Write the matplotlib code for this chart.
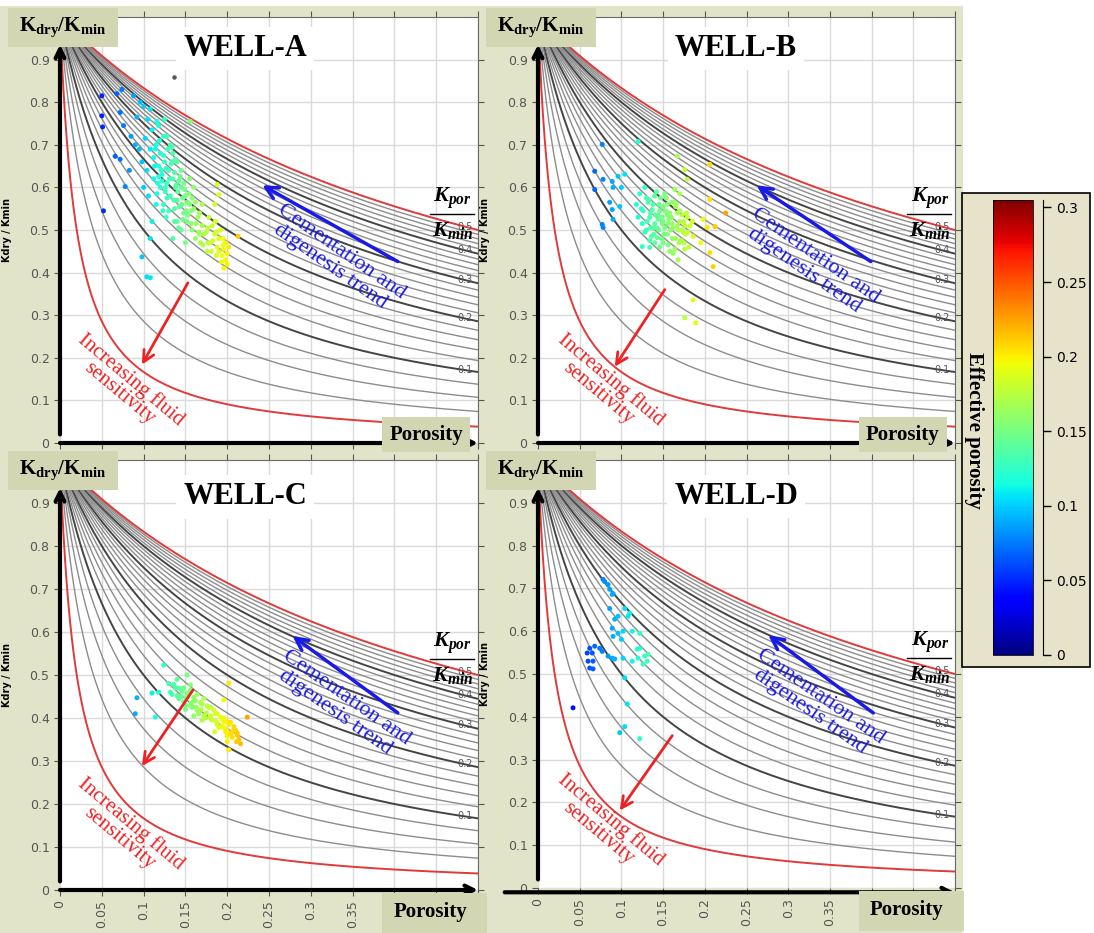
import numpy as np
import matplotlib.pyplot as plt
from matplotlib.patches import Rectangle
from matplotlib.colors import Normalize

plt.rcParams['mathtext.fontset'] = 'custom'
plt.rcParams['mathtext.rm'] = 'Liberation Serif'
plt.rcParams['mathtext.bf'] = 'Liberation Serif:bold'
plt.rcParams['mathtext.bfit'] = 'Liberation Serif:italic:bold'
SERIF = 'Liberation Serif'

# template curves: Kdry/Kmin = kpor / (kpor + phi)
kpor_ratios = np.round(np.arange(0.02, 0.501, 0.02), 2)
dark_ratios = [0.1, 0.2, 0.3, 0.4]
red_ratios = [0.02, 0.5]
label_ratios = [0.5, 0.4, 0.3, 0.2, 0.1]

# ---- well data: porosity, Kdry/Kmin ----
phi_a = [0.050, 0.050, 0.051, 0.052, 0.068, 0.074, 0.072, 0.076, 0.066, 0.072, 0.078,
         0.088, 0.096, 0.092, 0.085, 0.090, 0.083, 0.095, 0.100, 0.105, 0.110, 0.102,
         0.108, 0.098, 0.104, 0.112, 0.100, 0.106, 0.115, 0.110, 0.108, 0.098, 0.104, 0.108,
         0.115, 0.120, 0.125, 0.118, 0.122, 0.128, 0.130, 0.135, 0.126, 0.132, 0.138, 0.140,
         0.120, 0.116, 0.124, 0.130, 0.135, 0.128, 0.132, 0.140, 0.145, 0.118, 0.125, 0.108,
         0.116, 0.124, 0.134, 0.138,
         0.145, 0.150, 0.155, 0.148, 0.160, 0.152, 0.158, 0.165, 0.170, 0.162, 0.168, 0.175,
         0.155, 0.160, 0.170, 0.145, 0.150, 0.140, 0.135, 0.156, 0.190, 0.188,
         0.178, 0.182, 0.185, 0.180, 0.188, 0.190, 0.176, 0.185,
         0.192, 0.195, 0.198, 0.196, 0.200, 0.194, 0.198, 0.200, 0.196, 0.202, 0.190, 0.193, 0.213,
         0.112, 0.118, 0.122, 0.127, 0.133, 0.137, 0.142, 0.147, 0.152, 0.157, 0.163, 0.167,
         0.172, 0.177, 0.183, 0.187, 0.143, 0.148, 0.153, 0.158, 0.128, 0.123, 0.113, 0.137,
         0.142, 0.162, 0.166, 0.171, 0.181, 0.186,
         0.114, 0.119, 0.124, 0.129, 0.134, 0.139, 0.144, 0.149, 0.154,
         0.121, 0.126, 0.131, 0.136, 0.141, 0.146, 0.151,
         0.117, 0.127, 0.137, 0.147, 0.157, 0.167, 0.177, 0.187, 0.195]
k_a = [0.815, 0.768, 0.742, 0.545, 0.820, 0.830, 0.776, 0.745, 0.673, 0.666, 0.602,
       0.815, 0.800, 0.765, 0.720, 0.700, 0.640, 0.690, 0.790, 0.760, 0.735, 0.715,
       0.690, 0.660, 0.640, 0.620, 0.600, 0.580, 0.560, 0.520, 0.480, 0.437, 0.390, 0.388,
       0.700, 0.680, 0.660, 0.650, 0.630, 0.610, 0.640, 0.620, 0.590, 0.580, 0.600, 0.570,
       0.600, 0.585, 0.560, 0.545, 0.680, 0.720, 0.700, 0.660, 0.640, 0.745, 0.760, 0.784,
       0.755, 0.720, 0.694, 0.666,
       0.600, 0.580, 0.560, 0.540, 0.550, 0.520, 0.500, 0.530, 0.510, 0.480, 0.470, 0.495,
       0.620, 0.600, 0.560, 0.500, 0.470, 0.520, 0.480, 0.755, 0.583, 0.607,
       0.530, 0.510, 0.490, 0.470, 0.460, 0.480, 0.450, 0.560,
       0.500, 0.480, 0.470, 0.455, 0.445, 0.440, 0.430, 0.420, 0.410, 0.460, 0.450, 0.425, 0.485,
       0.670, 0.625, 0.615, 0.645, 0.655, 0.635, 0.615, 0.575, 0.565, 0.545, 0.515, 0.540,
       0.490, 0.505, 0.475, 0.495, 0.555, 0.610, 0.535, 0.575, 0.575, 0.545, 0.650, 0.550,
       0.505, 0.565, 0.495, 0.465, 0.450, 0.520,
       0.690, 0.710, 0.675, 0.690, 0.660, 0.605, 0.625, 0.595, 0.585,
       0.640, 0.600, 0.620, 0.570, 0.590, 0.560, 0.545,
       0.610, 0.530, 0.520, 0.525, 0.515, 0.490, 0.470, 0.440, 0.465]

phi_b = [0.077, 0.068, 0.068, 0.078, 0.089, 0.090, 0.086, 0.089, 0.077, 0.078, 0.090,
         0.098, 0.096, 0.104, 0.100, 0.120,
         0.118, 0.122, 0.126, 0.130, 0.134, 0.138, 0.142, 0.146, 0.150, 0.154, 0.158, 0.162,
         0.166, 0.170, 0.174, 0.178, 0.182, 0.186,
         0.120, 0.125, 0.130, 0.135, 0.140, 0.145, 0.150, 0.155, 0.160, 0.165, 0.170, 0.175,
         0.180, 0.185,
         0.124, 0.128, 0.132, 0.136, 0.140, 0.144, 0.148, 0.152, 0.156, 0.160, 0.164, 0.168,
         0.172, 0.176,
         0.128, 0.134, 0.140, 0.146, 0.152, 0.158, 0.164, 0.170, 0.176, 0.138, 0.144, 0.150,
         0.156, 0.162, 0.168,
         0.167, 0.176, 0.179, 0.206, 0.206, 0.212, 0.203, 0.206, 0.210, 0.195, 0.186, 0.176,
         0.189, 0.225, 0.125, 0.134, 0.198,
         0.131, 0.137, 0.143, 0.149, 0.155, 0.161, 0.167, 0.173, 0.179,
         0.133, 0.139, 0.145, 0.151, 0.157, 0.163, 0.169, 0.175, 0.181,
         0.135, 0.141, 0.147, 0.153, 0.159, 0.165, 0.171, 0.177,
         0.143, 0.149, 0.155, 0.161, 0.167, 0.173]
k_b = [0.701, 0.638, 0.595, 0.619, 0.614, 0.600, 0.565, 0.548, 0.513, 0.506, 0.525,
       0.555, 0.626, 0.631, 0.600, 0.708,
       0.560, 0.585, 0.545, 0.575, 0.530, 0.560, 0.590, 0.545, 0.520, 0.575, 0.540, 0.505,
       0.560, 0.520, 0.495, 0.540, 0.510, 0.485,
       0.530, 0.515, 0.500, 0.540, 0.515, 0.500, 0.555, 0.490, 0.530, 0.480, 0.545, 0.470,
       0.495, 0.520,
       0.550, 0.495, 0.565, 0.485, 0.470, 0.525, 0.480, 0.505, 0.465, 0.565, 0.455, 0.500,
       0.475, 0.455,
       0.600, 0.475, 0.580, 0.460, 0.585, 0.450, 0.595, 0.585, 0.510, 0.505, 0.535, 0.470,
       0.515, 0.445, 0.430,
       0.673, 0.642, 0.619, 0.654, 0.572, 0.508, 0.506, 0.447, 0.414, 0.470, 0.336, 0.294,
       0.282, 0.540, 0.461, 0.459, 0.525,
       0.520, 0.548, 0.505, 0.530, 0.560, 0.515, 0.540, 0.500, 0.530,
       0.570, 0.490, 0.560, 0.490, 0.525, 0.565, 0.470, 0.520, 0.460,
       0.505, 0.535, 0.575, 0.545, 0.500, 0.555, 0.475, 0.490,
       0.482, 0.515, 0.535, 0.480, 0.510, 0.535]

phi_c = [0.092, 0.090, 0.124, 0.110, 0.118, 0.114,
         0.130, 0.134, 0.138, 0.142, 0.146, 0.150, 0.154, 0.158, 0.162, 0.166, 0.170, 0.174,
         0.178, 0.182, 0.186, 0.190, 0.194, 0.198, 0.202, 0.206, 0.210, 0.214,
         0.132, 0.136, 0.140, 0.144, 0.148, 0.152, 0.156, 0.160, 0.164, 0.168, 0.172, 0.176,
         0.180, 0.184, 0.188, 0.192, 0.196, 0.200, 0.204, 0.208, 0.212,
         0.140, 0.148, 0.156, 0.164, 0.172, 0.180, 0.188, 0.196, 0.204, 0.212, 0.150, 0.160,
         0.170, 0.185, 0.200, 0.216,
         0.152, 0.156, 0.202, 0.196, 0.224, 0.202,
         0.145, 0.151, 0.157, 0.163, 0.169, 0.175, 0.181, 0.187, 0.193, 0.199, 0.205, 0.211,
         0.140, 0.160, 0.180, 0.200, 0.208, 0.196]
k_c = [0.447, 0.410, 0.523, 0.458, 0.460, 0.402,
       0.480, 0.455, 0.470, 0.445, 0.462, 0.430, 0.455, 0.425, 0.440, 0.410, 0.432, 0.400,
       0.425, 0.395, 0.410, 0.378, 0.398, 0.368, 0.385, 0.355, 0.372, 0.350,
       0.460, 0.478, 0.452, 0.468, 0.438, 0.458, 0.428, 0.448, 0.418, 0.436, 0.405, 0.428,
       0.400, 0.418, 0.385, 0.402, 0.378, 0.392, 0.365, 0.380, 0.360,
       0.490, 0.470, 0.465, 0.455, 0.445, 0.425, 0.410, 0.400, 0.390, 0.365, 0.420, 0.405,
       0.395, 0.368, 0.345, 0.340,
       0.500, 0.477, 0.481, 0.442, 0.402, 0.326,
       0.450, 0.448, 0.435, 0.425, 0.420, 0.412, 0.398, 0.392, 0.380, 0.372, 0.365, 0.345,
       0.470, 0.440, 0.405, 0.358, 0.372, 0.390]

phi_d = [0.078, 0.084, 0.086, 0.090, 0.080, 0.089, 0.086, 0.104, 0.110, 0.108, 0.096, 0.092,
         0.089, 0.102, 0.096, 0.090, 0.100, 0.113, 0.122, 0.068, 0.062, 0.059, 0.065, 0.074,
         0.077, 0.060, 0.066, 0.062, 0.066, 0.084, 0.089, 0.092, 0.102, 0.113, 0.119, 0.122,
         0.128, 0.132, 0.131, 0.126, 0.120, 0.104, 0.042, 0.107, 0.098, 0.104, 0.122]
k_d = [0.721, 0.709, 0.698, 0.688, 0.716, 0.686, 0.653, 0.653, 0.642, 0.635, 0.635, 0.628,
       0.607, 0.600, 0.595, 0.588, 0.581, 0.600, 0.595, 0.565, 0.560, 0.549, 0.549, 0.560,
       0.553, 0.530, 0.530, 0.514, 0.512, 0.542, 0.537, 0.535, 0.537, 0.530, 0.558, 0.560,
       0.542, 0.546, 0.530, 0.523, 0.537, 0.491, 0.421, 0.430, 0.363, 0.377, 0.349]

cbar_ticks = [0, 0.05, 0.1, 0.15, 0.2, 0.25, 0.3]
cbar_labels = ['0', '0.05', '0.1', '0.15', '0.2', '0.25', '0.3']
xtick_vals = [0, 0.05, 0.1, 0.15, 0.2, 0.25, 0.3, 0.35, 0.4, 0.45, 0.5]
xtick_labels = ['0', '0.05', '0.1', '0.15', '0.2', '0.25', '0.3', '0.35', '0.4', '0.45', '0.5']
ytick_vals = [0, 0.1, 0.2, 0.3, 0.4, 0.5, 0.6, 0.7, 0.8, 0.9]
ytick_labels = ['0', '0.1', '0.2', '0.3', '0.4', '0.5', '0.6', '0.7', '0.8', '0.9']

W, H = 1094, 933
BEIGE = '#e1e4c8'
BOX = '#d3d6b2'
norm = Normalize(0, 0.305)


def fx(px):
    return px / W


def fy(py):
    return 1 - py / H


def fig_box(fig, x0, y0, x1, y1, **kw):
    r = Rectangle((fx(x0), fy(y1)), fx(x1) - fx(x0), fy(y0) - fy(y1),
                  transform=fig.transFigure, **kw)
    fig.patches.append(r)
    return r


fig = plt.figure(figsize=(W / 100, H / 100), dpi=100)
fig_box(fig, 0, 6, 963, 933, fc=BEIGE, ec='none', zorder=-10)

# panel frames in pixels: left, right, top, bottom
panels = [
    dict(name='WELL-A', phi=phi_a, k=k_a, box=(60, 478, 17, 443), xlabels=False,
         title=(0.443, 0.927), blue=((0.404, 0.426), (0.242, 0.605)), btxt=(0.330, 0.432),
         red=((0.153, 0.376), (0.098, 0.184)), rtxt=(0.078, 0.133), xshift=0),
    dict(name='WELL-B', phi=phi_b, k=k_b, box=(538, 955, 17, 443), xlabels=False,
         title=(0.475, 0.927), blue=((0.399, 0.426), (0.262, 0.605)), btxt=(0.326, 0.422),
         red=((0.152, 0.360), (0.092, 0.179)), rtxt=(0.080, 0.133), xshift=0),
    dict(name='WELL-C', phi=phi_c, k=k_c, box=(60, 478, 460, 890), xlabels=True,
         title=(0.443, 0.914), blue=((0.404, 0.412), (0.278, 0.591)), btxt=(0.336, 0.430),
         red=((0.159, 0.465), (0.098, 0.288)), rtxt=(0.078, 0.137), xshift=0),
    dict(name='WELL-D', phi=phi_d, k=k_d, box=(538, 955, 460, 888), xlabels=True,
         title=(0.475, 0.914), blue=((0.402, 0.409), (0.276, 0.591)), btxt=(0.333, 0.430),
         red=((0.161, 0.356), (0.098, 0.181)), rtxt=(0.080, 0.144), xshift=1),
]

phi_grid = np.linspace(0, 0.5, 500)

for p in panels:
    l, r, t, b = p['box']
    ax = fig.add_axes([fx(l), fy(b), fx(r) - fx(l), fy(t) - fy(b)])
    ax.set_facecolor('white')
    ax.set_xlim(0, 0.5)
    ax.set_ylim(0, 1.0)
    ax.set_xticks(xtick_vals)
    ax.set_yticks(ytick_vals)
    ax.set_yticklabels(ytick_labels)
    if p['xlabels']:
        ax.set_xticklabels(xtick_labels, rotation=90, fontsize=9, color='#555555')
    else:
        ax.set_xticklabels([])
    ax.tick_params(axis='y', labelsize=9, labelcolor='#555555')
    ax.tick_params(direction='out', length=4, color='#555555', top=True, right=True)
    ax.grid(True, color='#dadada', lw=1)
    ax.set_axisbelow(True)
    for s in ['left', 'bottom']:
        ax.spines[s].set_visible(False)
    for s in ['top', 'right']:
        ax.spines[s].set_color('#6a6a6a')

    ax.set_ylabel('Kdry / Kmin', fontsize=7, fontweight='bold')
    ax.yaxis.set_label_coords(-48 / (r - l), 0.5)

    # stiffness template curves
    for kr in kpor_ratios:
        y = kr / (kr + phi_grid)
        if np.isclose(kr, red_ratios).any():
            col, lw = '#e03a3a', 1.4
        elif np.isclose(kr, dark_ratios).any():
            col, lw = '#444444', 1.4
        else:
            col, lw = '#8c8c8c', 1.0
        ax.plot(phi_grid, y, color=col, lw=lw, zorder=2)
    for kr in label_ratios:
        ax.text(0.484, kr / (kr + 0.484), f'{kr:g}', fontsize=7, color='#555555',
                ha='center', va='center', zorder=3)

    ax.scatter(p['phi'], p['k'], c=p['phi'], cmap='jet', norm=norm, s=13,
               edgecolors='none', zorder=4)
    if p['name'] == 'WELL-A':
        ax.scatter([0.136], [0.859], s=5, color='#555555', zorder=4)

    # axis arrows
    ax.annotate('', xy=(0, 0.935), xytext=(0, 0.02), annotation_clip=False,
                arrowprops=dict(arrowstyle='->', lw=3, color='black',
                                shrinkA=0, shrinkB=0, mutation_scale=16), zorder=6)
    x_start, x_y = (-0.08, -0.01) if p['xshift'] else (0, 0)
    ax.annotate('', xy=(1.0, x_y), xytext=(x_start, x_y), xycoords='axes fraction',
                textcoords='axes fraction', annotation_clip=False,
                arrowprops=dict(arrowstyle='->', lw=3, color='black',
                                shrinkA=0, shrinkB=0, mutation_scale=16), zorder=6)

    # well name
    ax.text(*p['title'], p['name'], transform=ax.transAxes, ha='center', va='center',
            fontsize=22, fontweight='bold', family=SERIF, zorder=5,
            bbox=dict(fc='white', ec='none', pad=5))

    # trend arrows and notes
    (bx0, by0), (bx1, by1) = p['blue']
    ax.annotate('', xy=(bx1, by1), xytext=(bx0, by0),
                arrowprops=dict(arrowstyle='->', lw=2.5, color='#1a1ae6',
                                shrinkA=0, shrinkB=0, mutation_scale=22), zorder=5)
    ax.text(*p['btxt'], 'Cementation and\ndigenesis trend', color='#1a1ae6',
            fontsize=16, family=SERIF, rotation=-35, ha='center', va='center',
            linespacing=0.95, zorder=5)
    (rx0, ry0), (rx1, ry1) = p['red']
    ax.annotate('', xy=(rx1, ry1), xytext=(rx0, ry0),
                arrowprops=dict(arrowstyle='->', lw=2, color='#ee2222',
                                shrinkA=0, shrinkB=0, mutation_scale=20), zorder=5)
    ax.text(*p['rtxt'], 'Increasing fluid\nsensitivity', color='#ee2222',
            fontsize=15, family=SERIF, rotation=-40, ha='center', va='center',
            linespacing=0.95, multialignment='center', zorder=5)

    # Kpor / Kmin fraction
    ax.text(0.94, 0.575, r'$\mathbfit{K_{por}}$', transform=ax.transAxes, fontsize=16,
            ha='center', va='center', zorder=5)
    ax.plot([0.885, 0.99], [0.538, 0.538], transform=ax.transAxes, color='black',
            lw=1, clip_on=False, zorder=5)
    ax.text(0.94, 0.498, r'$\mathbfit{K_{min}}$', transform=ax.transAxes, fontsize=16,
            ha='center', va='center', zorder=5)

    # corner label boxes
    fig_box(fig, l - 52, t - 9, l + 58, t + 30, fc=BOX, ec='none', zorder=7)
    fig.text(fx(l + 3), fy(t + 10), r'$\mathbf{K_{dry}/K_{min}}$', fontsize=15,
             ha='center', va='center', zorder=8)
    if p['xlabels']:
        fig_box(fig, r - 96, b + 3, r + 9, b + 43, fc=BOX, ec='none', zorder=7)
        fig.text(fx(r - 48), fy(b + 22), 'Porosity', fontsize=15, fontweight='bold',
                 family=SERIF, ha='center', va='center', zorder=8)
    else:
        fig_box(fig, r - 96, b - 26, r - 8, b + 9, fc=BOX, ec='none', zorder=7)
        fig.text(fx(r - 52), fy(b - 8), 'Porosity', fontsize=15, fontweight='bold',
                 family=SERIF, ha='center', va='center', zorder=8)

# colour scale for effective porosity
fig_box(fig, 962, 193, 1090, 667, fc='#e6e3ca', ec='black', lw=1.2, zorder=1)
cax = fig.add_axes([fx(993), fy(655), fx(1033) - fx(993), fy(200) - fy(655)])
cax.set_zorder(3)
sm = plt.cm.ScalarMappable(norm=norm, cmap='jet')
cb = fig.colorbar(sm, cax=cax, ticks=cbar_ticks)
cb.ax.set_yticklabels(cbar_labels)
for lab in cb.ax.get_yticklabels():
    lab.set_fontsize(15)
    lab.set_fontweight('bold')
    lab.set_family(SERIF)
cb.outline.set_linewidth(0.6)
cax.spines['right'].set_visible(True)
cax.spines['right'].set_position(('outward', 7))
cax.tick_params(length=6, width=1)
fig.text(fx(974), fy(430), 'Effective porosity', rotation=-90, fontsize=15,
         fontweight='bold', family=SERIF, ha='center', va='center', zorder=5)

fig.savefig('out.png', dpi=100)
